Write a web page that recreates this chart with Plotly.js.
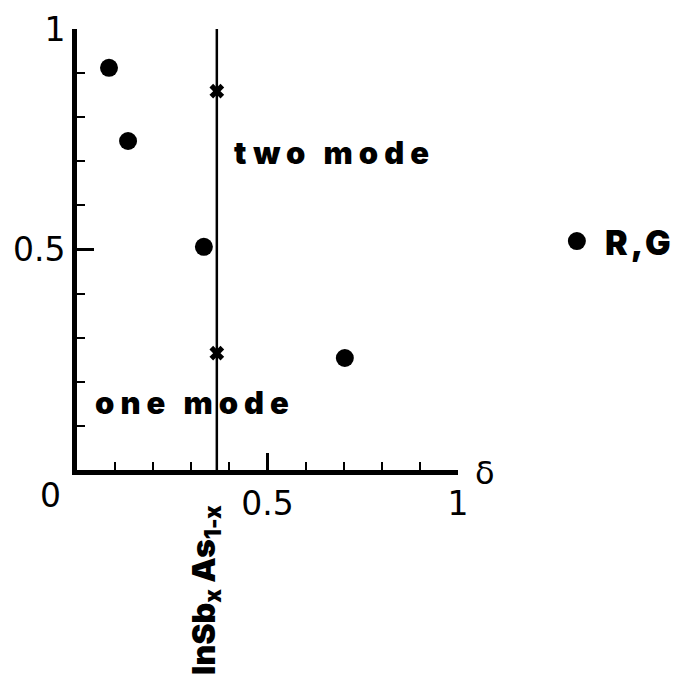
<!DOCTYPE html>
<html>
<head>
<meta charset="utf-8">
<script src="https://cdn.plot.ly/plotly-3.0.1.min.js"></script>
<style>
  html, body { margin: 0; padding: 0; background: #ffffff; }
  #plot { width: 675px; height: 676px; }
</style>
</head>
<body>
<div id="plot"></div>
<script>
// measured points, delta on x, normalised value on y
const dotDelta = [0.084, 0.134, 0.333, 0.703];
const dotValue = [0.912, 0.746, 0.506, 0.254];
const rgDelta = [1.312];
const rgValue = [0.519];
const boundaryDelta = [0.367, 0.367];
const boundaryValue = [0, 1];
const crossDelta = [0.367, 0.367];
const crossValue = [0.859, 0.265];
const xTickVals = [0.5, 1];
const xTickText = ['0.5', '1'];
const yTickVals = [0.5, 1];
const yTickText = ['0.5', '1'];
const minorVals = [0.1, 0.2, 0.3, 0.4, 0.6, 0.7, 0.8, 0.9];

const black = '#000000';
const tickFont = { family: 'DejaVu Sans, sans-serif', size: 33, color: black };
const heavyFont = { family: 'Inter, sans-serif', size: 31, color: black, weight: 900 };

const plotWidth = 675 - 77;
const xSpan = 381;

const traces = [
  {
    x: boundaryDelta,
    y: boundaryValue,
    xaxis: 'x',
    yaxis: 'y',
    type: 'scatter',
    mode: 'lines',
    line: { color: black, width: 2.5 },
    hoverinfo: 'skip',
  },
  {
    x: crossDelta,
    y: crossValue,
    xaxis: 'x',
    yaxis: 'y',
    type: 'scatter',
    mode: 'markers',
    marker: { symbol: 'x', size: 13, color: black, line: { width: 0 } },
  },
  {
    x: dotDelta,
    y: dotValue,
    xaxis: 'x',
    yaxis: 'y',
    type: 'scatter',
    mode: 'markers',
    marker: { symbol: 'circle', size: 18, color: black },
  },
  {
    x: rgDelta,
    y: rgValue,
    xaxis: 'x2',
    yaxis: 'y',
    type: 'scatter',
    mode: 'markers',
    marker: { symbol: 'circle', size: 18, color: black },
  },
];

const layout = {
  width: 675,
  height: 676,
  margin: { l: 77, r: 0, t: 29, b: 206 },
  paper_bgcolor: '#ffffff',
  plot_bgcolor: 'rgba(0,0,0,0)',
  showlegend: false,
  xaxis: {
    domain: [0, xSpan / plotWidth],
    range: [0, 1],
    showline: true,
    linewidth: 5,
    linecolor: black,
    showgrid: false,
    zeroline: false,
    ticks: 'inside',
    tickmode: 'array',
    tickvals: xTickVals,
    ticktext: xTickText,
    ticklen: 17,
    tickwidth: 2.5,
    tickcolor: black,
    tickfont: tickFont,
    minor: { tickmode: 'array', tickvals: minorVals, ticks: 'inside', ticklen: 8, tickwidth: 2, tickcolor: black, showgrid: false },
  },
  xaxis2: {
    domain: [0, 1],
    range: [0, plotWidth / xSpan],
    anchor: 'y',
    visible: false,
  },
  yaxis: {
    range: [0, 1],
    showline: true,
    linewidth: 5,
    linecolor: black,
    showgrid: false,
    zeroline: false,
    ticks: 'inside',
    tickmode: 'array',
    tickvals: yTickVals,
    ticktext: yTickText,
    ticklen: 17,
    tickwidth: 2.5,
    tickcolor: black,
    tickfont: tickFont,
    minor: { tickmode: 'array', tickvals: minorVals, ticks: 'inside', ticklen: 8, tickwidth: 2, tickcolor: black, showgrid: false },
  },
  annotations: [
    {
      text: '<span style="letter-spacing:6px">two mode</span>',
      xref: 'x', yref: 'y', x: 0.677, y: 0.721,
      showarrow: false, font: heavyFont,
    },
    {
      text: '<span style="letter-spacing:6px">one mode</span>',
      xref: 'x', yref: 'y', x: 0.31, y: 0.152,
      showarrow: false, font: heavyFont,
    },
    {
      text: '<span style="letter-spacing:3px">R,G</span>',
      xref: 'x2', yref: 'y', x: 1.381, y: 0.515, xanchor: 'left',
      showarrow: false, font: { family: 'Inter, sans-serif', size: 34, color: black, weight: 900 },
    },
    {
      text: '0',
      xref: 'paper', yref: 'paper', x: -0.0435, y: -0.057,
      xanchor: 'center', yanchor: 'middle',
      showarrow: false, font: tickFont,
    },
    {
      text: 'δ',
      xref: 'paper', yref: 'paper', x: 0.682, y: -0.007,
      xanchor: 'center', yanchor: 'middle',
      showarrow: false, font: { family: 'DejaVu Sans, sans-serif', size: 32, color: black },
    },
    {
      text: 'InSb<sub>x</sub> As<sub>1-x</sub>',
      xref: 'x', yref: 'paper', x: 0.367, y: -0.075, xshift: -12,
      xanchor: 'center', yanchor: 'top', textangle: -90,
      showarrow: false, font: { family: 'Inter, sans-serif', size: 32, color: black, weight: 900 },
    },
  ],
};

Plotly.newPlot('plot', traces, layout, { displayModeBar: false, staticPlot: true });
</script>
</body>
</html>
